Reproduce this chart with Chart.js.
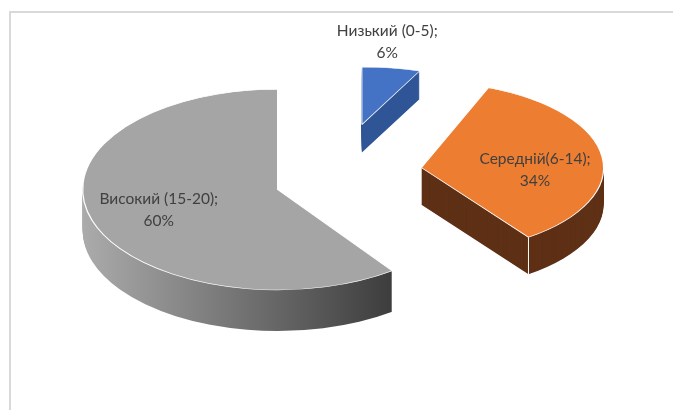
<!DOCTYPE html>
<html>
<head>
<meta charset="utf-8">
<script src="https://cdn.jsdelivr.net/npm/chart.js@4"></script>
<style>
html, body { margin: 0; padding: 0; background: #fff; overflow: hidden; }
#frame { position: absolute; left: 9px; top: 11px; width: 700px; height: 420px;
         border-left: 2px solid #d9d9d9; border-top: 2px solid #d9d9d9; }
#pie { position: absolute; left: 0; top: 0; }
</style>
</head>
<body>
<div id="frame"></div>
<canvas id="pie" width="673" height="410"></canvas>
<script>
// data
const categories = ['Низький (0-5)', 'Середній(6-14)', 'Високий (15-20)'];
const values = [6, 34, 60];

// look
const topColors = ['#4472c4', '#ed7d31', '#a5a5a5'];
const sideColors = ['#2f5597', '#5e3015', null]; // null -> grey gradient
const labelDist = [1.0, 0.64, 0.63];
const labelShift = [[-4, -26], [-2, 9], [-2, 1]];

const TILT = 0.5;          // flattening of the disc
const DEPTH = 38;          // thickness in px
const EXPLODE = 74;        // how far slices are pulled out
const EXPLODE_TILT = 0.68;
const PERSP_X = 0.16;      // back slices look smaller
const PERSP_Y = 0.36;

function geom(arc) {
    const mid = (arc.startAngle + arc.endAngle) / 2;
    const s = Math.sin(mid);
    return {
        mid: mid,
        sx: 1.01 + PERSP_X * s,
        sy: 0.98 + PERSP_Y * s,
        x: arc.x + Math.cos(mid) * EXPLODE,
        y: arc.y + s * EXPLODE * EXPLODE_TILT
    };
}

function place(ctx, arc, g, down) {
    ctx.translate(g.x, g.y + down);
    ctx.scale(g.sx, g.sy * TILT);
    ctx.translate(-arc.x, -arc.y);
}

const pie3d = {
    id: 'pie3d',
    beforeDatasetsDraw(chart) {
        const ctx = chart.ctx;
        const arcs = chart.getDatasetMeta(0).data;
        const order = arcs.map((a, i) => i).sort((a, b) => geom(arcs[a]).y - geom(arcs[b]).y);
        order.forEach(i => {
            const arc = arcs[i];
            const g = geom(arc);
            let fill = sideColors[i];
            if (!fill) {
                fill = ctx.createLinearGradient(arc.x - arc.outerRadius, 0, arc.x + arc.outerRadius * 0.6, 0);
                fill.addColorStop(0, '#ababab');
                fill.addColorStop(1, '#3c3c3c');
            }
            const side = Object.create(arc);
            side.options = Object.assign({}, arc.options, { backgroundColor: fill, borderWidth: 0 });
            const depth = Math.round(DEPTH * (g.sx + g.sy) / 2);
            for (let d = depth; d >= 1; d--) {
                ctx.save();
                place(ctx, arc, g, d);
                side.draw(ctx);
                ctx.restore();
            }
            // white corner line where the front cut meets the rim
            if (Math.sin(arc.endAngle) > 0.2) {
                const px = g.x + Math.cos(arc.endAngle) * arc.outerRadius * g.sx;
                const py = g.y + Math.sin(arc.endAngle) * arc.outerRadius * g.sy * TILT;
                ctx.save();
                ctx.strokeStyle = '#ffffff';
                ctx.lineWidth = 1;
                ctx.beginPath();
                ctx.moveTo(px, py);
                ctx.lineTo(px, py + depth);
                ctx.stroke();
                ctx.restore();
            }
            ctx.save();
            place(ctx, arc, g, 0);
            arc.draw(ctx);
            ctx.restore();
        });
        return false;
    },
    afterDraw(chart) {
        const ctx = chart.ctx;
        const arcs = chart.getDatasetMeta(0).data;
        const total = values.reduce((a, b) => a + b, 0);
        ctx.save();
        ctx.font = '15.5px Lato';
        ctx.fillStyle = '#404040';
        ctx.textAlign = 'center';
        ctx.textBaseline = 'middle';
        arcs.forEach((arc, i) => {
            const g = geom(arc);
            const r = arc.outerRadius * labelDist[i];
            const x = g.x + Math.cos(g.mid) * r * g.sx + labelShift[i][0];
            const y = g.y + Math.sin(g.mid) * r * g.sy * TILT + labelShift[i][1];
            ctx.fillText(categories[i] + ';', x, y - 11);
            ctx.fillText(Math.round(values[i] / total * 100) + '%', x, y + 11);
        });
        ctx.restore();
    }
};

new Chart(document.getElementById('pie'), {
    type: 'pie',
    data: {
        labels: categories,
        datasets: [{
            data: values,
            backgroundColor: topColors,
            borderColor: '#ffffff',
            borderWidth: 1.2,
            radius: 184
        }]
    },
    options: {
        responsive: false,
        animation: false,
        events: [],
        layout: { padding: { left: 23, right: 0, top: 0, bottom: 62 } },
        plugins: { legend: { display: false }, tooltip: { enabled: false } }
    },
    plugins: [pie3d]
});
</script>
</body>
</html>
